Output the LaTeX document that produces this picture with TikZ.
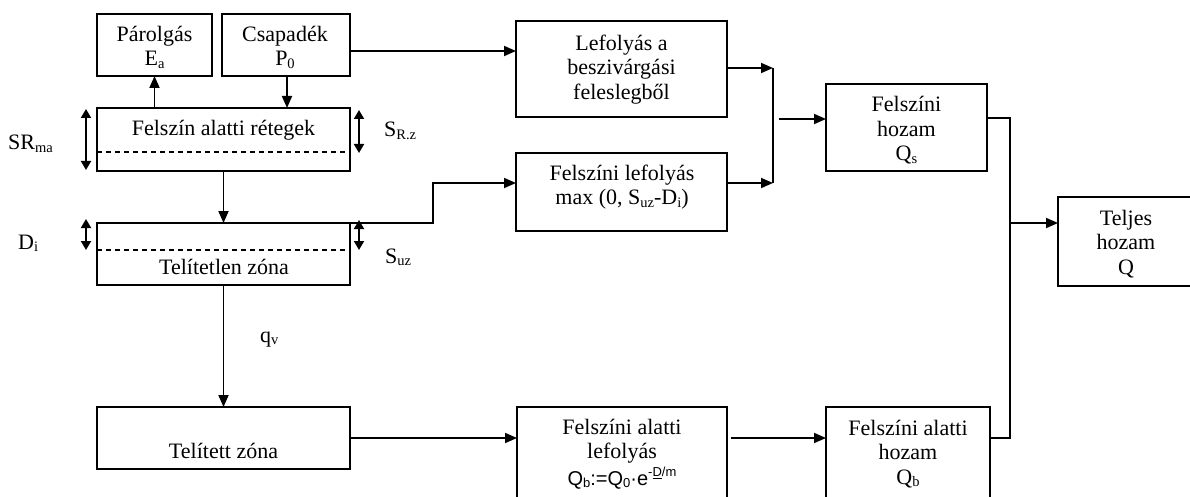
\documentclass[tikz,border=0pt]{standalone}
\usepackage{fontspec}
\setmainfont{Liberation Serif}
\newfontfamily\arialf{Liberation Sans}
\usetikzlibrary{arrows.meta}
\newcommand{\sbs}[1]{\raisebox{-0.12em}{\fontsize{14.5}{14.5}\selectfont #1}}
\newcommand{\asbs}[1]{\raisebox{-0.12em}{\fontsize{13}{13}\selectfont #1}}
\newcommand{\asup}[1]{\raisebox{0.42em}{\fontsize{13}{13}\selectfont #1}}
\begin{document}
\begin{tikzpicture}[x=1pt,y=-1pt,
  box/.style={draw, line width=1.5pt, rectangle, inner sep=0pt, outer sep=0pt},
  txt/.style={align=center, inner sep=0pt, anchor=north, font=\fontsize{22}{24.5}\selectfont},
  lbl/.style={inner sep=0pt, anchor=base west, font=\fontsize{22}{24.5}\selectfont},
  conn/.style={line width=1.8pt, -{Triangle[length=12pt,width=10pt]}},
  plain/.style={line width=1.8pt},
  dbl/.style={line width=1.8pt, {Triangle[length=9pt,width=10pt]}-{Triangle[length=9pt,width=10pt]}},
  dline/.style={line width=1.2pt, dash pattern=on 5pt off 4pt}
]
\clip (0,0) rectangle (1190,497);
\fill[white] (0,0) rectangle (1190,497);

% boxes
\node[box, minimum width=115pt, minimum height=62pt] (par) at (154.5,45) {};
\node[box, minimum width=128pt, minimum height=62pt] (csa) at (286,45) {};
\node[box, minimum width=253pt, minimum height=63pt] (fel) at (223.5,139.5) {};
\node[box, minimum width=253pt, minimum height=62pt] (tln) at (223.5,254) {};
\node[box, minimum width=253pt, minimum height=62pt] (tlt) at (223.5,438) {};
\node[box, minimum width=211pt, minimum height=96pt] (lef) at (621.5,69) {};
\node[box, minimum width=211pt, minimum height=78pt] (fle) at (621.5,192) {};
\node[box, minimum width=210pt, minimum height=100pt] (fal) at (622,457) {};
\node[box, minimum width=161pt, minimum height=87pt] (fho) at (906.5,127.5) {};
\node[box, minimum width=164pt, minimum height=100pt] (fah) at (908,457) {};
\node[box, minimum width=140pt, minimum height=89pt] (tel) at (1128,241.5) {};

% dashed level lines
\draw[dline] (97,152) -- (350,152);
\draw[dline] (97,250) -- (350,250);

% texts in boxes
\node[txt] (part) at (154.5,23.85) {\strut Párolgás\\\strut E\sbs{a}};
\node[txt] (csat) at (285,23.85) {\strut Csapadék\\\strut P\sbs{0}};
\node[txt] (felt) at (223.5,117.85) {\strut Felszín alatti rétegek};
\node[txt] (tlnt) at (224,256.85) {\strut Telítetlen zóna};
\node[txt] (tltt) at (223.5,440.85) {\strut Telített zóna};
\node[txt] (left) at (621.5,32.85) {\strut Lefolyás a\\\strut beszivárgási\\\strut feleslegből};
\node[txt] (flet) at (622,162.85) {\strut Felszíni lefolyás\\\strut max (0, S\sbs{uz}-D\sbs{i})};
\node[txt] (fhot) at (906.5,94.5) {\strut Felszíni\\\strut hozam\\\strut Q\sbs{s}};
\node[txt] (telt) at (1126,207.85) {\strut Teljes\\\strut hozam\\\strut Q};
\node[txt] (falt) at (622,416.85) {\strut Felszíni alatti\\\strut lefolyás};
\node[inner sep=0pt, anchor=base, font=\arialf\fontsize{20}{22}\selectfont] (falf) at (622,485)
  {Q\asbs{b}:=Q\asbs{0}·e\asup{-\underline{D}/m}};
\node[txt] (faht) at (908,417.85) {\strut Felszíni alatti\\\strut hozam\\\strut Q\sbs{b}};

% side labels
\node[lbl] (srma) at (8,150) {SR\sbs{ma}};
\node[lbl] (di) at (18,249) {D\sbs{i}};
\node[lbl] (srz) at (384,137) {S\sbs{R.z}};
\node[lbl] (suz) at (385,263) {S\sbs{uz}};
\node[lbl] (qv) at (260,342) {q\sbs{v}};

% level markers
\draw[dbl] (86,109) -- (86,170);
\draw[dbl] (359,110) -- (359,153);
\draw[dbl] (86,219) -- (86,250);
\draw[dbl] (359,220) -- (359,250);

% connectors
\draw[conn] (par.south |- fel.north) -- (par.south);
\draw[conn] ([xshift=1pt]csa.south) -- ([xshift=1pt]csa.south |- fel.north);
\draw[conn] ([yshift=-6pt]csa.east) -- ([yshift=-6pt]csa.east -| lef.west);
\draw[conn] (fel.south) -- (tln.north);
\draw[conn] (tln.north east) -- ++(83,0) |- ([yshift=9pt]fle.west);
\draw[conn] (tln.south) -- (tlt.north);
\draw[conn] (tlt.east) -- (tlt.east -| fal.west);
\draw[conn] ([xshift=4pt]fal.east |- tlt.east) -- (fah.west |- tlt.east);

\coordinate (jx) at (773,0);
\coordinate (jy) at (779,0);
\coordinate (jz) at (1010,0);
\draw[conn] ([yshift=1pt]lef.east) -- ([yshift=1pt]lef.east -| jx);
\draw[conn] ([yshift=9pt]fle.east) -- ([yshift=9pt]fle.east -| jx);
\draw[plain] ([yshift=1pt]lef.east -| jx) -- ([yshift=9pt]fle.east -| jx);
\draw[conn] ([yshift=8.5pt]fho.west -| jy) -- ([yshift=8.5pt]fho.west);
\draw[plain] ([yshift=9.5pt]fho.east) -| (jz |- tlt.east) -- (fah.east |- tlt.east);
\draw[conn] ([yshift=18.5pt]tel.west -| jz) -- ([yshift=18.5pt]tel.west);
\end{tikzpicture}
\end{document}
